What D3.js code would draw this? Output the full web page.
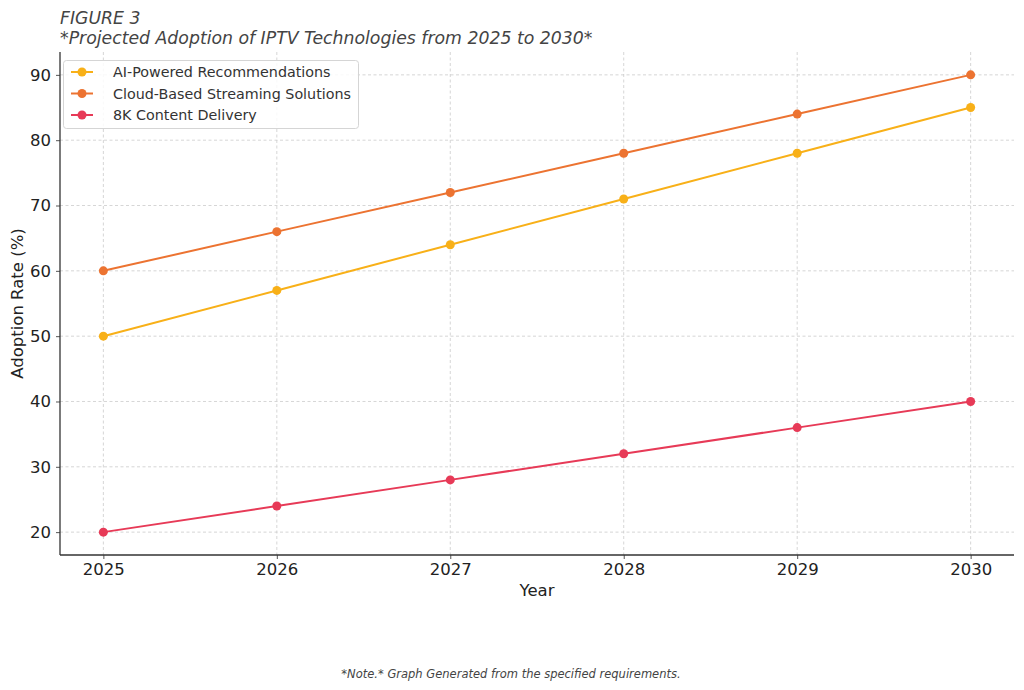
<!DOCTYPE html>
<html><head><meta charset="utf-8">
<script src="https://cdn.jsdelivr.net/npm/d3@7"></script>
<style>body{margin:0;background:#fff}svg{display:block}text{font-family:"DejaVu Sans",sans-serif}</style>
</head><body>
<svg id="chart" width="1024" height="690"></svg>
<script>
const years = [2025, 2026, 2027, 2028, 2029, 2030];
const aiRecommendations = [50, 57, 64, 71, 78, 85];
const cloudStreaming = [60, 66, 72, 78, 84, 90];
const content8K = [20, 24, 28, 32, 36, 40];
const seriesNames = ["AI-Powered Recommendations", "Cloud-Based Streaming Solutions", "8K Content Delivery"];
const seriesColors = ["#F8B018", "#EC7331", "#E73A57"];
const yTicks = [20, 30, 40, 50, 60, 70, 80, 90];

const series = [aiRecommendations, cloudStreaming, content8K];
const svg = d3.select("#chart");
const L = 60, R = 1014, T = 52, B = 555;
const x = d3.scaleLinear().domain([2024.75, 2030.25]).range([L, R]);
const y = d3.scaleLinear().domain([16.5, 93.5]).range([B, T]);

// grid
const grid = svg.append("g").attr("stroke", "#cccccc").attr("stroke-width", 0.8).attr("stroke-dasharray", "3,2.5");
grid.selectAll(".gx").data(years).join("line").attr("x1", d => x(d)).attr("x2", d => x(d)).attr("y1", T).attr("y2", B);
grid.selectAll(".gy").data(yTicks).join("line").attr("y1", d => y(d)).attr("y2", d => y(d)).attr("x1", L).attr("x2", R);

// axes
const xAxis = svg.append("g").attr("transform", `translate(0,${B})`)
  .call(d3.axisBottom(x).tickValues(years).tickFormat(d3.format("d")).tickSize(4).tickPadding(4));
const yAxis = svg.append("g").attr("transform", `translate(${L},0)`)
  .call(d3.axisLeft(y).tickValues(yTicks).tickSize(4).tickPadding(5));
[xAxis, yAxis].forEach(a => {
  a.select(".domain").remove();
  a.selectAll(".tick line").attr("stroke", "#555");
  a.selectAll("text").attr("font-size", 16.5).attr("fill", "#222").attr("font-family", "DejaVu Sans");
});
svg.append("line").attr("x1", L).attr("x2", L).attr("y1", T).attr("y2", B).attr("stroke", "#333").attr("stroke-width", 1.3);
svg.append("line").attr("x1", L).attr("x2", R).attr("y1", B).attr("y2", B).attr("stroke", "#333").attr("stroke-width", 1.3);

// lines
const line = d3.line().x((d, i) => x(years[i])).y(d => y(d));
series.forEach((s, k) => {
  const g = svg.append("g");
  g.append("path").attr("d", line(s)).attr("fill", "none").attr("stroke", seriesColors[k]).attr("stroke-width", 2);
  g.selectAll("circle").data(s).join("circle").attr("cx", (d, i) => x(years[i])).attr("cy", d => y(d)).attr("r", 4.5).attr("fill", seriesColors[k]);
});

// legend
const lg = svg.append("g");
lg.append("rect").attr("x", 63.5).attr("y", 60.5).attr("width", 295).attr("height", 68).attr("rx", 3)
  .attr("fill", "#fff").attr("fill-opacity", 0.85).attr("stroke", "#d5d5d5");
seriesNames.forEach((n, k) => {
  const cy = 72 + k * 21.5;
  lg.append("line").attr("x1", 71).attr("x2", 93).attr("y1", cy).attr("y2", cy).attr("stroke", seriesColors[k]).attr("stroke-width", 2);
  lg.append("circle").attr("cx", 82).attr("cy", cy).attr("r", 4.5).attr("fill", seriesColors[k]);
  lg.append("text").attr("x", 113).attr("y", cy + 5).attr("font-size", 14.3).attr("fill", "#333").text(n);
});

// titles
svg.append("text").attr("x", 60).attr("y", 24).attr("font-size", 17.3).attr("font-style", "italic").attr("fill", "#444").text("FIGURE 3");
svg.append("text").attr("x", 60).attr("y", 44).attr("font-size", 17.3).attr("font-style", "italic").attr("fill", "#444").text("*Projected Adoption of IPTV Technologies from 2025 to 2030*");
svg.append("text").attr("x", (L + R) / 2).attr("y", 596).attr("text-anchor", "middle").attr("font-size", 16.5).attr("fill", "#222").text("Year");
svg.append("text").attr("transform", `translate(23,${(T + B) / 2}) rotate(-90)`).attr("text-anchor", "middle").attr("font-size", 16.5).attr("fill", "#222").text("Adoption Rate (%)");
svg.append("text").attr("x", 511).attr("y", 678).attr("text-anchor", "middle").attr("font-size", 11.5).attr("font-style", "italic").attr("fill", "#444").text("*Note.* Graph Generated from the specified requirements.");
</script>
</body></html>
